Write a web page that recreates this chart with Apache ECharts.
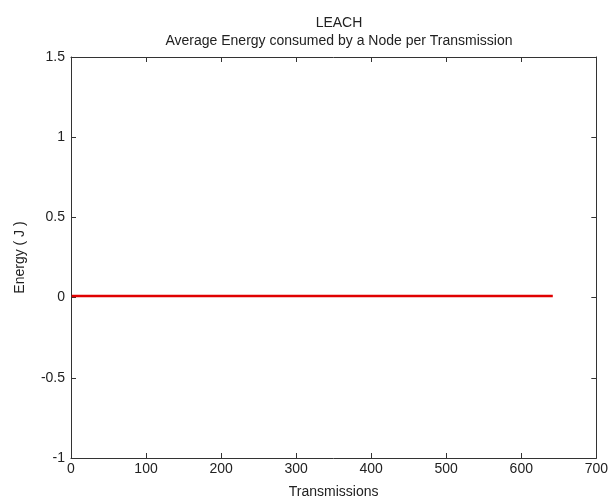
<!DOCTYPE html>
<html><head><meta charset="utf-8">
<script src="https://cdn.jsdelivr.net/npm/echarts@6/dist/echarts.min.js"></script>
<style>html,body{margin:0;padding:0;background:#fff}#c{width:611px;height:504px}</style>
</head><body><div id="c"></div>
<script>
const transmissions = [1, 100, 200, 300, 400, 500, 600, 642];
const energy = [0.01, 0.01, 0.01, 0.01, 0.01, 0.01, 0.01, 0.01];
const xTicks = [0, 100, 200, 300, 400, 500, 600, 700];
const yTicks = [-1, -0.5, 0, 0.5, 1, 1.5];

const font = 'Liberation Sans, Arial, sans-serif';
const axisColor = '#333';
const textColor = '#222';
const chart = echarts.init(document.getElementById('c'), null, {renderer: 'canvas'});
const baseAxis = {
  axisLine: {show: true, onZero: false, lineStyle: {color: axisColor, width: 1}},
  axisTick: {show: true, inside: true, length: 5, lineStyle: {color: axisColor}},
  splitLine: {show: false}
};
chart.setOption({
  animation: false,
  title: {
    text: 'LEACH\nAverage Energy consumed by a Node per Transmission',
    left: 334, top: 9, textAlign: 'center',
    textStyle: {fontFamily: font, fontSize: 14, fontWeight: 'normal', color: textColor, lineHeight: 18}
  },
  grid: {left: 71, right: 12, top: 57, bottom: 41, containLabel: false},
  xAxis: [
    Object.assign({}, baseAxis, {
      type: 'value', min: xTicks[0], max: xTicks[xTicks.length - 1], interval: 100,
      name: 'Transmissions', nameLocation: 'middle', nameGap: 27,
      nameTextStyle: {fontFamily: font, fontSize: 14, color: textColor},
      axisLabel: {fontFamily: font, fontSize: 14, color: textColor, margin: 4, showMaxLabel: true, showMinLabel: true}
    }),
    Object.assign({}, baseAxis, {
      type: 'value', position: 'top', min: 0, max: 700, interval: 100,
      axisLabel: {show: false}
    })
  ],
  yAxis: [
    Object.assign({}, baseAxis, {
      type: 'value', min: yTicks[0], max: yTicks[yTicks.length - 1], interval: 0.5,
      name: 'Energy ( J )', nameLocation: 'middle', nameGap: 44,
      nameTextStyle: {fontFamily: font, fontSize: 14, color: textColor},
      axisLabel: {fontFamily: font, fontSize: 14, color: textColor, margin: 6,
        formatter: v => String(v)}
    }),
    Object.assign({}, baseAxis, {
      type: 'value', position: 'right', min: -1, max: 1.5, interval: 0.5,
      axisLabel: {show: false}
    })
  ],
  series: [{
    type: 'line',
    data: transmissions.map((t, i) => [t, energy[i]]),
    showSymbol: false,
    lineStyle: {color: '#e00000', width: 2.5},
    xAxisIndex: 0, yAxisIndex: 0
  }]
});
</script></body></html>
